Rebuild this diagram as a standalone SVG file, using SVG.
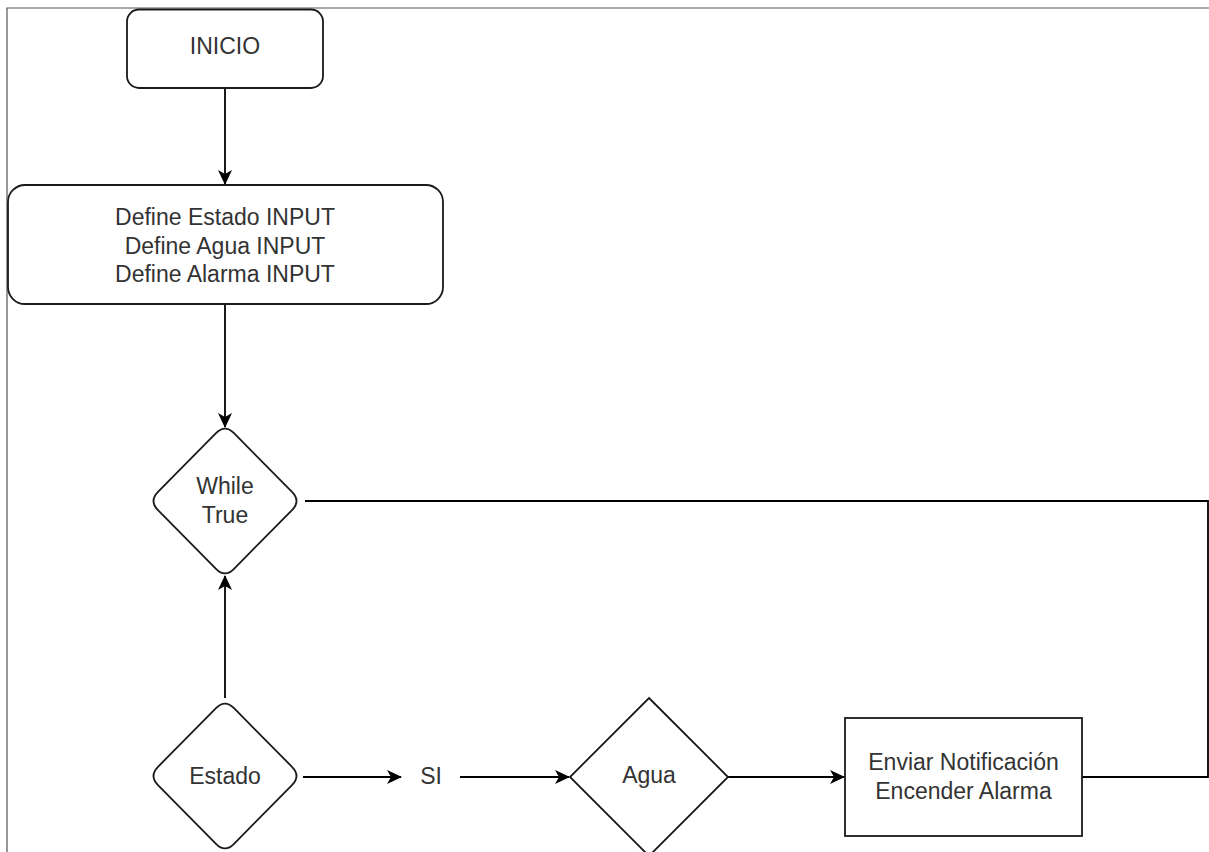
<svg xmlns="http://www.w3.org/2000/svg" width="1209" height="852" viewBox="0 0 1209 852">
<style>
.shape{fill:#fff;stroke:#1a1a1a;stroke-width:1.8}
.edge{fill:none;stroke:#000;stroke-width:1.8}
.border{fill:none;stroke:#555;stroke-width:1.2}
text{font-family:"Liberation Sans",Arial,Helvetica,sans-serif;font-size:23px;fill:#333;text-anchor:middle}
</style>
<defs>
<marker id="arr" viewBox="0 0 15 14" refX="14" refY="7" markerWidth="15" markerHeight="14" markerUnits="userSpaceOnUse" orient="auto">
<path d="M0,0 L15,7 L0,14 L4,7 Z" fill="#000"/>
</marker>
<path id="rdiamond" d="M216,433.2 Q225,424 234,433.2 L292,491.8 Q301,501 292,510.2 L234,568.8 Q225,578 216,568.8 L158,510.2 Q149,501 158,491.8 Z"/>
</defs>
<rect width="1209" height="852" fill="#fff"/>
<g id="frame">
<path class="border" d="M7,852 L7,8 L1209,8"/>
</g>
<g id="connectors">
<path class="edge" d="M225,88 L225,184" marker-end="url(#arr)"/>
<path class="edge" d="M225,304 L225,427" marker-end="url(#arr)"/>
<path class="edge" d="M225,698 L225,576" marker-end="url(#arr)"/>
<path class="edge" d="M303,777 L401,777" marker-end="url(#arr)"/>
<path class="edge" d="M460,777 L569,777" marker-end="url(#arr)"/>
<path class="edge" d="M728,777 L844,777" marker-end="url(#arr)"/>
<path class="edge" d="M1082,777 L1208,777 L1208,501 L305,501"/>
</g>
<g id="inicio">
<rect class="shape" x="127" y="9.5" width="196" height="78.5" rx="12"/>
<text x="225" y="54">INICIO</text>
</g>
<g id="define">
<rect class="shape" x="8" y="185" width="435" height="119" rx="17"/>
<text x="225" y="225">Define Estado INPUT</text>
<text x="225" y="253.5">Define Agua INPUT</text>
<text x="225" y="282">Define Alarma INPUT</text>
</g>
<g id="while">
<use href="#rdiamond" class="shape"/>
<text x="225" y="494">While</text>
<text x="225" y="523">True</text>
</g>
<g id="estado">
<use href="#rdiamond" class="shape" transform="translate(0,275)"/>
<text x="225" y="784">Estado</text>
</g>
<g id="si">
<text x="431" y="784">SI</text>
</g>
<g id="agua">
<path class="shape" d="M649,698 L728,777 L649,856 L570,777 Z"/>
<text x="649" y="783">Agua</text>
</g>
<g id="enviar">
<rect class="shape" x="845" y="718" width="237" height="118"/>
<text x="963.5" y="770">Enviar Notificación</text>
<text x="963.5" y="799">Encender Alarma</text>
</g>
</svg>
